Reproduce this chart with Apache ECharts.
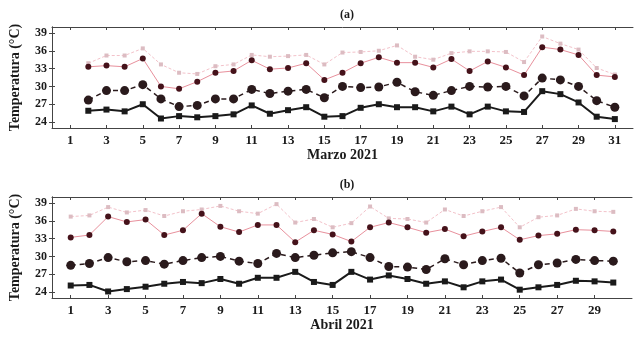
<!DOCTYPE html>
<html>
<head>
<meta charset="utf-8">
<script src="https://cdn.jsdelivr.net/npm/echarts@6/dist/echarts.min.js"></script>
<style>
  html, body { margin: 0; padding: 0; background: #fff; }
  #chart { width: 636px; height: 340px; }
</style>
</head>
<body>
<div id="chart"></div>
<script>
// datos de marzo (dia 2 a 31) y abril (dia 1 a 30)
var diasMarzo = [2, 3, 4, 5, 6, 7, 8, 9, 10, 11, 12, 13, 14, 15, 16, 17, 18, 19, 20, 21, 22, 23, 24, 25, 26, 27, 28, 29, 30, 31];
var marzoRosa = [33.9, 35.2, 35.2, 36.4, 33.7, 32.3, 32.1, 33.4, 33.7, 35.3, 35.0, 35.1, 35.3, 33.7, 35.7, 35.8, 36.0, 36.9, 35.0, 34.5, 35.6, 35.9, 35.9, 35.8, 34.1, 38.4, 37.2, 36.2, 33.1, 32.0];
var marzoRojo = [33.3, 33.5, 33.3, 34.7, 30.0, 29.6, 30.8, 32.3, 32.6, 34.4, 32.9, 33.1, 33.9, 31.1, 32.3, 33.9, 34.9, 34.0, 34.0, 33.2, 34.6, 32.6, 34.2, 33.2, 31.9, 36.6, 36.2, 35.3, 31.9, 31.6];
var marzoPuntos = [27.7, 29.3, 29.3, 30.3, 27.9, 26.6, 26.8, 27.9, 27.9, 29.5, 28.8, 29.2, 29.5, 28.1, 30.0, 29.8, 29.9, 30.7, 29.1, 28.5, 29.3, 30.0, 29.9, 30.0, 28.4, 31.4, 31.1, 30.0, 27.6, 26.5];
var marzoNegro = [25.9, 26.1, 25.8, 27.0, 24.6, 25.0, 24.8, 25.0, 25.3, 26.8, 25.4, 26.0, 26.5, 24.9, 25.0, 26.4, 27.0, 26.5, 26.5, 25.8, 26.6, 25.3, 26.6, 25.8, 25.7, 29.2, 28.7, 27.3, 24.9, 24.5];

var diasAbril = [1, 2, 3, 4, 5, 6, 7, 8, 9, 10, 11, 12, 13, 14, 15, 16, 17, 18, 19, 20, 21, 22, 23, 24, 25, 26, 27, 28, 29, 30];
var abrilRosa = [36.7, 36.9, 38.3, 37.4, 37.8, 36.8, 37.6, 37.9, 38.5, 37.6, 37.2, 38.8, 35.7, 36.3, 34.9, 35.6, 38.4, 36.4, 36.3, 35.7, 37.9, 36.8, 37.6, 38.3, 34.9, 36.6, 36.9, 38.0, 37.6, 37.5];
var abrilRojo = [33.2, 33.6, 36.7, 35.8, 36.2, 33.6, 34.4, 37.2, 35.0, 34.1, 35.3, 35.3, 32.4, 34.4, 33.7, 32.5, 34.9, 35.7, 34.9, 34.0, 34.6, 33.4, 34.2, 34.9, 32.8, 33.5, 33.8, 34.5, 34.4, 34.2];
var abrilPuntos = [28.5, 28.8, 29.8, 29.1, 29.3, 28.7, 29.3, 29.8, 30.0, 29.2, 28.8, 30.5, 29.8, 30.2, 30.6, 30.8, 29.8, 28.3, 28.2, 27.8, 29.6, 28.6, 29.3, 29.7, 27.2, 28.6, 28.9, 29.5, 29.3, 29.2];
var abrilNegro = [25.1, 25.2, 24.1, 24.5, 24.9, 25.4, 25.7, 25.5, 26.2, 25.4, 26.4, 26.4, 27.4, 25.7, 25.2, 27.4, 26.1, 26.8, 26.2, 25.4, 25.8, 24.8, 25.8, 26.1, 24.4, 24.8, 25.2, 25.9, 25.8, 25.6];

var ticksY = [24, 27, 30, 33, 36, 39];
var ticksMarzo = [1, 3, 5, 7, 9, 11, 13, 15, 17, 19, 21, 23, 25, 27, 29, 31];
var ticksAbril = [1, 3, 5, 7, 9, 11, 13, 15, 17, 19, 21, 23, 25, 27, 29];

var fuente = 'Liberation Serif';
var colorMarco = '#444';
var colorTexto = '#1a1a1a';

function pares (dias, vals) {
  return dias.map(function (d, i) { return [d, vals[i]]; });
}

// ejes x (abajo con etiquetas, arriba solo marcas)
function ejeX (grid, max, ticks, nombre) {
  return [{
    type: 'value', gridIndex: grid, min: 0, max: max, position: 'bottom',
    name: nombre, nameLocation: 'middle', nameGap: 20,
    nameTextStyle: { fontFamily: fuente, fontWeight: 'bold', fontSize: 14, color: colorTexto },
    axisLine: { onZero: false, lineStyle: { color: colorMarco } },
    axisTick: { inside: true, length: 3, customValues: ticks, lineStyle: { color: colorMarco } },
    axisLabel: { customValues: ticks, fontFamily: fuente, fontWeight: 'bold', fontSize: 13, color: colorTexto, margin: 6 },
    splitLine: { show: false }
  }, {
    type: 'value', gridIndex: grid, min: 0, max: max, position: 'top',
    axisLine: { onZero: false, lineStyle: { color: colorMarco } },
    axisTick: { inside: true, length: 3, customValues: ticks, lineStyle: { color: colorMarco } },
    axisLabel: { show: false },
    splitLine: { show: false }
  }];
}

function ejeY (grid) {
  return [{
    type: 'value', gridIndex: grid, min: 23, max: 40, position: 'left',
    name: 'Temperatura (°C)', nameLocation: 'middle', nameGap: 30,
    nameTextStyle: { fontFamily: fuente, fontWeight: 'bold', fontSize: 14, color: colorTexto },
    axisLine: { show: true, lineStyle: { color: colorMarco } },
    axisTick: { show: true, inside: true, length: 3, customValues: ticksY, lineStyle: { color: colorMarco } },
    axisLabel: { customValues: ticksY, fontFamily: fuente, fontWeight: 'bold', fontSize: 12, color: colorTexto, margin: 5 },
    splitLine: { show: false }
  }, {
    type: 'value', gridIndex: grid, min: 23, max: 40, position: 'right',
    axisLine: { show: true, lineStyle: { color: colorMarco } },
    axisTick: { show: true, inside: true, length: 3, customValues: ticksY, lineStyle: { color: colorMarco } },
    axisLabel: { show: false },
    splitLine: { show: false }
  }];
}

// las cuatro series de un panel
function series (xi, yi, dias, rosa, rojo, puntos, negro) {
  return [{
    type: 'line', xAxisIndex: xi, yAxisIndex: yi, data: pares(dias, rosa),
    symbol: 'rect', symbolSize: 4,
    itemStyle: { color: '#dcbcc2' },
    lineStyle: { color: '#f3c2ca', width: 1, type: [3, 2] }
  }, {
    type: 'line', xAxisIndex: xi, yAxisIndex: yi, data: pares(dias, rojo),
    symbol: 'circle', symbolSize: 6,
    itemStyle: { color: '#45121a' },
    lineStyle: { color: '#e8909c', width: 1 }
  }, {
    type: 'line', xAxisIndex: xi, yAxisIndex: yi, data: pares(dias, puntos),
    symbol: 'circle', symbolSize: 9,
    itemStyle: { color: '#2a1a1c' },
    lineStyle: { color: '#2a1a1c', width: 1.5, type: [5, 4] }
  }, {
    type: 'line', xAxisIndex: xi, yAxisIndex: yi, data: pares(dias, negro),
    symbol: 'rect', symbolSize: 6,
    itemStyle: { color: '#1a1a1a' },
    lineStyle: { color: '#1a1a1a', width: 2 }
  }];
}

const myChart = echarts.init(document.getElementById('chart'), null, { renderer: 'canvas' });
const option = {
  backgroundColor: '#fff',
  animation: false,
  title: [
    { text: '(a)', left: 342, top: 4, textAlign: 'center',
      textStyle: { fontFamily: fuente, fontWeight: 'bold', fontSize: 12, color: colorTexto } },
    { text: '(b)', left: 342, top: 174, textAlign: 'center',
      textStyle: { fontFamily: fuente, fontWeight: 'bold', fontSize: 12, color: colorTexto } }
  ],
  grid: [
    { left: 52, top: 27, width: 581, height: 101 },
    { left: 52, top: 197, width: 580, height: 101 }
  ],
  xAxis: ejeX(0, 32, ticksMarzo, 'Marzo 2021').concat(ejeX(1, 31, ticksAbril, 'Abril 2021')),
  yAxis: ejeY(0).concat(ejeY(1)),
  series: series(0, 0, diasMarzo, marzoRosa, marzoRojo, marzoPuntos, marzoNegro)
    .concat(series(2, 2, diasAbril, abrilRosa, abrilRojo, abrilPuntos, abrilNegro))
};
myChart.setOption(option);
window.addEventListener('resize', function () {
  myChart.resize();
});
</script>
</body>
</html>
